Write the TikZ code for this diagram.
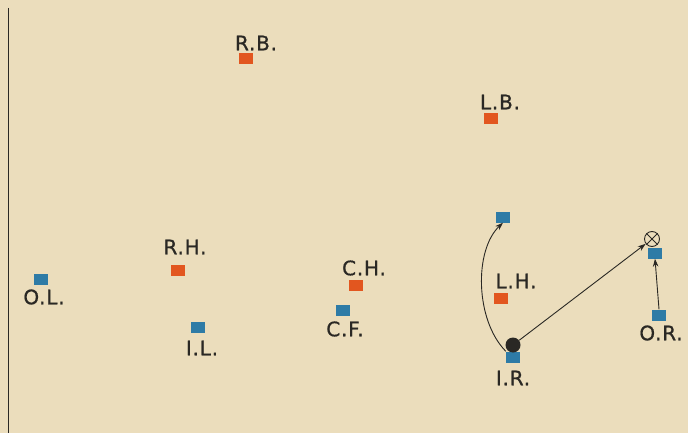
\documentclass[tikz,border=0pt]{standalone}
\usepackage{fontspec}
\setmainfont{DejaVu Sans}[LetterSpace=4, FakeBold=0.8]
\usetikzlibrary{arrows.meta}
\definecolor{paper}{HTML}{EBDDBC}
\definecolor{redsq}{HTML}{E2561F}
\definecolor{bluesq}{HTML}{2E7BA6}
\definecolor{ink}{HTML}{2A2824}
\tikzset{
  rsq/.style={fill=redsq, minimum width=14pt, minimum height=11pt, inner sep=0pt, draw=none},
  bsq/.style={fill=bluesq, minimum width=14pt, minimum height=11pt, inner sep=0pt, draw=none},
  lbl/.style={text=ink, font=\fontsize{20}{20}\selectfont, inner sep=0pt},
  arr/.style={draw=ink, line width=0.9pt, -{Stealth[length=8pt,width=5.5pt]}}
}
\begin{document}
\begin{tikzpicture}[x=1pt,y=-1pt]
\fill[paper] (0,0) rectangle (688,433);
\useasboundingbox (0,0) rectangle (688,433);
\coordinate (ltop) at (8.5,8);
\coordinate (lbot) at (8.5,433);
\draw[ink, line width=1pt] (ltop) -- (lbot);
% squares
\node[bsq] (OL) at (41,279) {};
\node[lbl] (OLt) at (44,297) {O.L.};
\node[rsq] (RB) at (246,59) {};
\node[lbl] (RBt) at (256,43) {R.B.};
\node[rsq] (LB) at (491,119) {};
\node[lbl] (LBt) at (500,102) {L.B.};
\node[rsq] (RH) at (178,270) {};
\node[lbl] (RHt) at (185,247) {R.H.};
\node[rsq] (CH) at (356,285) {};
\node[lbl] (CHt) at (364,268) {C.H.};
\node[bsq] (CF) at (343,310) {};
\node[lbl] (CFt) at (345,329) {C.F.};
\node[bsq] (IL) at (198,327) {};
\node[lbl] (ILt) at (202,348) {I.L.};
\node[bsq] (TR) at (503,217) {};
\node[rsq] (LH) at (501,298) {};
\node[lbl] (LHt) at (516,281) {L.H.};
\node[bsq] (IR) at (513,357) {};
\node[lbl] (IRt) at (513,378) {I.R.};
\node[circle, fill=ink, minimum size=15pt, inner sep=0pt] (ball) at (513,345) {};
\node[bsq] (ORs) at (655,253) {};
\node[circle, draw=ink, line width=0.9pt, minimum size=15pt, inner sep=0pt] (X) at (652,239) {};
\draw[ink, line width=0.9pt] (X.north west) -- (X.south east) (X.north east) -- (X.south west);
\node[bsq] (OR) at (659,315) {};
\node[lbl] (ORt) at (661,333) {O.R.};
% arrows
\draw[arr] (IR.north west) .. controls (475,320) and (474,250) .. (TR.south);
\draw[arr] (ball) -- (X);
\draw[arr] (OR.north) -- (ORs.south);
\end{tikzpicture}
\end{document}
